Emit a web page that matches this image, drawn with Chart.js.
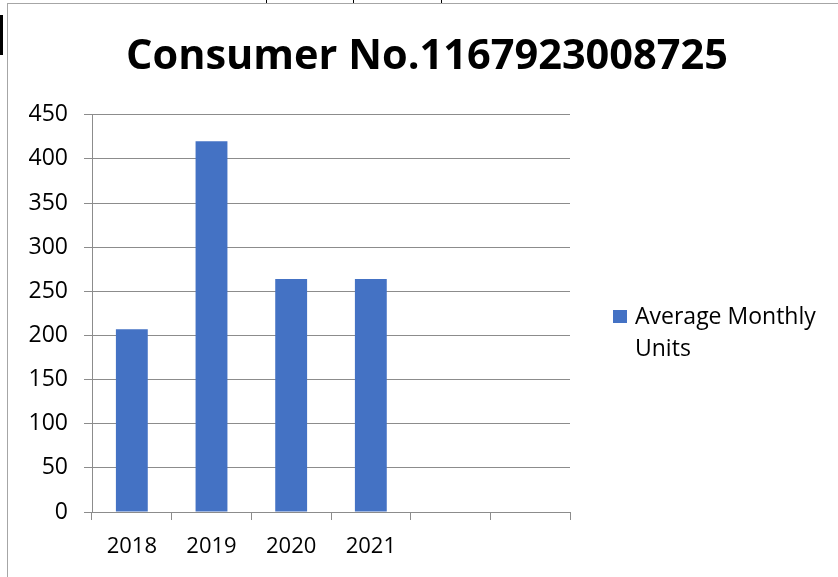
<!DOCTYPE html>
<html>
<head>
<meta charset="utf-8">
<script src="https://cdn.jsdelivr.net/npm/chart.js@4"></script>
<style>
  html, body { margin: 0; padding: 0; background: #fff; }
  #wrap { position: relative; width: 838px; height: 577px; overflow: hidden; }
  #chart { position: absolute; left: 0; top: 0; }
  .ln { position: absolute; }
</style>
</head>
<body>
<div id="wrap">
  <canvas id="chart" width="838" height="577"></canvas>
  <!-- page frame / stray table lines from the source document -->
  <div class="ln" style="left:7px;top:3px;width:831px;height:574px;border-left:1px solid #a6a6a6;border-top:1px solid #a6a6a6;"></div>
  <div class="ln" style="left:266px;top:0;width:1px;height:3px;background:#000;"></div>
  <div class="ln" style="left:353px;top:0;width:1px;height:3px;background:#000;"></div>
  <div class="ln" style="left:441px;top:0;width:1px;height:3px;background:#000;"></div>
  <div class="ln" style="left:0;top:15px;width:3px;height:40px;background:#000;"></div>
</div>
<script>
// data
const years = ['2018', '2019', '2020', '2021', '', ''];
const avgUnits = [207, 420, 264, 264, null, null];
const seriesName = 'Average Monthly Units';
const chartTitle = 'Consumer No.1167923008725';
const yMin = 0, yMax = 450, yStep = 50;

const barColor = '#4472C4';
const gridColor = '#8c8c8c';
const font = 'Open Sans';

// legend on the right, wrapped onto two lines like the source
const sideLegend = {
    id: 'sideLegend',
    afterDraw(chart) {
        const ctx = chart.ctx;
        const ds = chart.data.datasets[0];
        ctx.save();
        ctx.font = '23px "' + font + '"';
        // simple word wrap
        const words = ds.label.split(' ');
        const lines = [];
        let cur = '';
        words.forEach(w => {
            const test = cur ? cur + ' ' + w : w;
            if (ctx.measureText(test).width > 200 && cur) { lines.push(cur); cur = w; }
            else cur = test;
        });
        if (cur) lines.push(cur);

        const x = chart.chartArea.right + 43;
        const y = 317;
        ctx.fillStyle = ds.backgroundColor;
        ctx.fillRect(x, y - 7, 14, 13);
        ctx.fillStyle = '#000';
        ctx.textBaseline = 'middle';
        ctx.textAlign = 'left';
        lines.forEach((l, i) => ctx.fillText(l, x + 22, y + i * 32));
        ctx.restore();
    }
};

new Chart(document.getElementById('chart'), {
    type: 'bar',
    data: {
        labels: years,
        datasets: [{
            label: seriesName,
            data: avgUnits,
            backgroundColor: barColor,
            borderWidth: 0,
            categoryPercentage: 0.8,
            barPercentage: 0.5
        }]
    },
    options: {
        responsive: false,
        animation: false,
        layout: { padding: { left: 16, right: 0, top: 0, bottom: 0 } },
        plugins: {
            legend: { display: false },
            tooltip: { enabled: false },
            title: {
                display: true,
                text: chartTitle,
                color: '#000',
                font: { family: font, size: 41.5, weight: 'bold', lineHeight: 1.2 },
                padding: { top: 32, bottom: 33 }
            }
        },
        scales: {
            x: {
                offset: true,
                grid: { offset: true, drawOnChartArea: false, drawTicks: true, tickLength: 8, color: gridColor },
                border: { display: true, color: gridColor },
                ticks: { color: '#000', font: { family: font, size: 22 }, padding: 14, maxRotation: 0, autoSkip: false },
                afterFit(scale) { scale.height = 65; }
            },
            y: {
                min: yMin,
                max: yMax,
                ticks: { stepSize: yStep, color: '#000', font: { family: font, size: 23 }, padding: 16 },
                grid: { color: gridColor, tickLength: 8 },
                border: { display: true, color: gridColor },
                afterFit(scale) { scale.width = 76; }
            },
            // empty right-hand box that reserves room for the legend
            side: {
                position: 'right',
                display: true,
                ticks: { display: false },
                grid: { display: false },
                border: { display: false },
                afterFit(scale) { scale.width = 268; }
            }
        }
    },
    plugins: [sideLegend]
});
</script>
</body>
</html>
